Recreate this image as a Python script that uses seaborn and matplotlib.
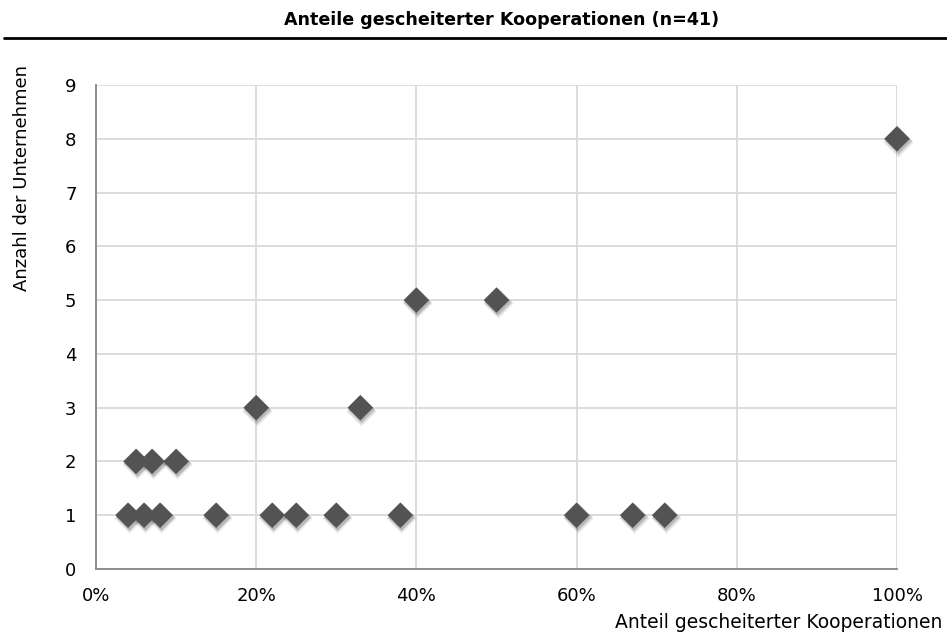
import matplotlib
matplotlib.use("Agg")
import matplotlib.pyplot as plt
import matplotlib.transforms as mtransforms
from matplotlib.ticker import FuncFormatter, MultipleLocator
import seaborn as sns
import pandas as pd

# Data
anteil = [0.04, 0.06, 0.08, 0.15, 0.22, 0.25, 0.30, 0.38, 0.60, 0.67, 0.71,
          0.05, 0.07, 0.10,
          0.20, 0.33,
          0.40, 0.50,
          1.00]
anzahl = [1, 1, 1, 1, 1, 1, 1, 1, 1, 1, 1,
          2, 2, 2,
          3, 3,
          5, 5,
          8]
title = "Anteile gescheiterter Kooperationen (n=41)"
xlabel = "Anteil gescheiterter Kooperationen"
ylabel = "Anzahl der Unternehmen"

df = pd.DataFrame({"anteil": anteil, "anzahl": anzahl})

sns.set_style("white")
plt.rcParams["font.family"] = ["DejaVu Sans"]
plt.rcParams["text.color"] = "black"

fig = plt.figure(figsize=(9.47, 6.37), dpi=100)
W, H = 947, 637
ax = fig.add_axes([96 / W, 68 / H, (897 - 96) / W, (569 - 85) / H])

# soft shadow
for dx, dy, a, s in [(1, -3, 0.08, 240), (1, -2, 0.10, 205), (0.5, -1.5, 0.13, 180)]:
    tr = mtransforms.offset_copy(ax.transData, fig=fig, x=dx, y=dy, units="dots")
    ax.scatter(df["anteil"], df["anzahl"], marker="D", s=s, color="#000000",
               alpha=a, linewidths=0, transform=tr, zorder=3, clip_on=False)

sns.scatterplot(data=df, x="anteil", y="anzahl", marker="D", s=170,
                color="#535353", edgecolor="none", linewidth=0, ax=ax, zorder=4,
                clip_on=False)

ax.set_xlim(0, 1.0)
ax.set_ylim(0, 9)
ax.xaxis.set_major_locator(MultipleLocator(0.2))
ax.yaxis.set_major_locator(MultipleLocator(1))
ax.xaxis.set_major_formatter(FuncFormatter(lambda v, p: f"{v*100:.0f}%"))
ax.grid(True, color="#d9d9d9", linewidth=1.3)
ax.set_axisbelow(True)
for side in ["top", "right"]:
    ax.spines[side].set_visible(False)
for side in ["left", "bottom"]:
    ax.spines[side].set_color("#868686")
    ax.spines[side].set_linewidth(1.3)
ax.tick_params(axis="both", direction="out", length=5, width=1.3, color="#868686",
               labelsize=13, labelcolor="#000000")
ax.tick_params(axis="x", pad=8)
ax.tick_params(axis="y", pad=9)
ax.set_xlabel("")
ax.set_ylabel("")

fig.text(942 / W, 1 - 623 / H, xlabel, ha="right", va="center", fontsize=13.5,
         color="black")
fig.text(22 / W, 1 - 65 / H, ylabel, ha="center", va="top", rotation=90,
         fontsize=13, color="black")
fig.text(0.5 * (285 + 718) / W, 1 - 20 / H, title, ha="center", va="center",
         fontsize=12.6, fontweight="bold", color="black")
fig.add_artist(plt.Line2D([4 / W, 1], [1 - 38 / H, 1 - 38 / H], color="black",
                          linewidth=2, transform=fig.transFigure))

fig.savefig("out.png", dpi=100)
